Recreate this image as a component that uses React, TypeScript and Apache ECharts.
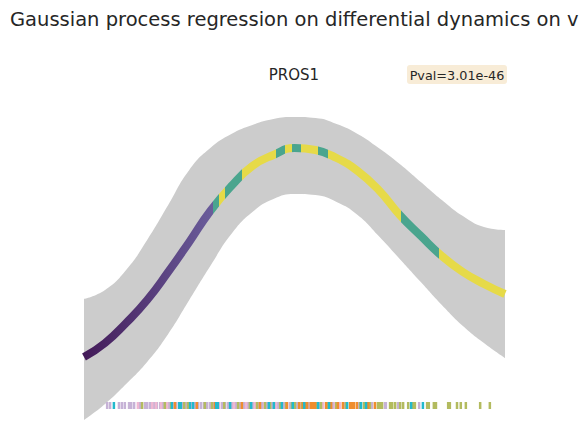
import React, { useEffect, useRef } from "react";
import * as echarts from "echarts";

// Pseudotime grid on which the GP posterior is evaluated
const pseudotime = [
  "0.00", "0.05", "0.10", "0.15", "0.20", "0.25", "0.30", "0.35", "0.40", "0.45", "0.50",
  "0.55", "0.60", "0.65", "0.70", "0.75", "0.80", "0.85", "0.90", "0.95", "1.00",
];

// Posterior mean of the fitted expression
const meanExpr = [
  -0.392, -0.275, -0.108, 0.083, 0.317, 0.567, 0.825, 1.033, 1.2, 1.292, 1.35,
  1.333, 1.267, 1.158, 1.0, 0.792, 0.617, 0.45, 0.317, 0.217, 0.133,
];

// Upper / lower bounds of the confidence band
const upperCI = [
  0.092, 0.167, 0.333, 0.583, 0.875, 1.167, 1.35, 1.467, 1.542, 1.592, 1.608,
  1.6, 1.55, 1.467, 1.35, 1.217, 1.067, 0.917, 0.783, 0.692, 0.667,
];
const lowerCI = [
  -0.917, -0.783, -0.617, -0.433, -0.2, 0.083, 0.367, 0.633, 0.817, 0.925, 0.967,
  0.958, 0.9, 0.792, 0.617, 0.425, 0.233, 0.042, -0.133, -0.275, -0.4,
];

// Dynamic state along the trajectory: segment boundaries and the state of each segment
const stateBreaks = [0, 0.306, 0.321, 0.335, 0.375, 0.456, 0.477, 0.494, 0.515, 0.556, 0.58, 0.753, 0.843, 1];
const stateIds = ["rise", "peak", "decay", "peak", "decay", "peak", "decay", "peak", "decay", "peak", "decay", "peak", "decay"];
const stateColors: Record<string, string[]> = {
  rise: ["#431a58", "#6a5d9b"],
  peak: ["#4aa58e", "#4aa58e"],
  decay: ["#e6da48", "#e6da48"],
};

// Cell positions (pseudotime) for the rug, grouped by cluster
const rugClusterPurple = [
  0.055, 0.062, 0.083, 0.09, 0.097, 0.107, 0.112, 0.119, 0.133, 0.145, 0.15, 0.157, 0.166, 0.173,
  0.181, 0.188, 0.195, 0.202, 0.219, 0.235, 0.242, 0.264, 0.271, 0.278, 0.285, 0.292, 0.299, 0.306,
  0.328, 0.335, 0.342, 0.352, 0.361, 0.371, 0.38, 0.39, 0.401, 0.413, 0.423, 0.435, 0.447, 0.461,
  0.475, 0.489, 0.506, 0.534, 0.561, 0.591, 0.618, 0.651, 0.684, 0.715, 0.717, 0.746, 0.796,
];
const rugClusterPink = [
  0.128, 0.162, 0.171, 0.183, 0.197, 0.214, 0.257, 0.321, 0.356, 0.385, 0.406, 0.428, 0.456,
  0.513, 0.568, 0.596, 0.608,
];
const rugClusterCyan = [
  0.071, 0.209, 0.226, 0.23, 0.252, 0.259, 0.314, 0.318, 0.347, 0.397, 0.439, 0.451, 0.47, 0.496,
  0.523, 0.556, 0.582, 0.625, 0.658, 0.67, 0.777, 0.805,
];
const rugClusterOrange = [
  0.216, 0.268, 0.311, 0.375, 0.418, 0.482, 0.511, 0.52, 0.525, 0.53, 0.539, 0.544, 0.549, 0.575,
  0.587, 0.603, 0.615, 0.632, 0.637, 0.641, 0.648, 0.675, 0.691,
];
const rugClusterOlive = [
  0.138, 0.192, 0.207, 0.238, 0.247, 0.287, 0.304, 0.333, 0.366, 0.394, 0.411, 0.43, 0.442, 0.466,
  0.48, 0.494, 0.501, 0.518, 0.551, 0.563, 0.58, 0.599, 0.622, 0.656, 0.665, 0.679, 0.698, 0.703,
  0.708, 0.727, 0.732, 0.739, 0.751, 0.758, 0.77, 0.781, 0.786, 0.815, 0.819, 0.831, 0.836, 0.865,
  0.869, 0.886, 0.895, 0.907, 0.941, 0.964,
];
const rugLevel = -0.796;

const rugGroups: [number[], string][] = [
  [rugClusterPurple, "#c6b2d6"],
  [rugClusterPink, "#efb7d2"],
  [rugClusterOlive, "#b3bb5f"],
  [rugClusterOrange, "#ef8d2e"],
  [rugClusterCyan, "#22b9cd"],
];

function buildStateGradient() {
  const stops: { offset: number; color: string }[] = [];
  for (let i = 0; i < stateIds.length; i++) {
    const [c0, c1] = stateColors[stateIds[i]];
    stops.push({ offset: stateBreaks[i], color: c0 });
    stops.push({ offset: stateBreaks[i + 1], color: c1 });
  }
  return new echarts.graphic.LinearGradient(0, 0, 1, 0, stops);
}

export default function App() {
  const ref = useRef<HTMLDivElement>(null);

  useEffect(() => {
    if (!ref.current) return;
    const chart = echarts.init(ref.current, undefined, { renderer: "svg" });
    const font = "DejaVu Sans";

    chart.setOption({
      animation: false,
      backgroundColor: "#ffffff",
      title: [
        {
          text: "Gaussian process regression on differential dynamics on v",
          left: 10,
          top: 9,
          padding: 0,
          textStyle: { fontFamily: font, fontSize: 19.5, fontWeight: "normal", color: "#262626" },
        },
        {
          text: "PROS1",
          left: "center",
          top: 67,
          padding: 0,
          textStyle: { fontFamily: font, fontSize: 15, fontWeight: "normal", color: "#262626" },
        },
      ],
      graphic: [
        {
          type: "group",
          left: 407,
          top: 65,
          children: [
            { type: "rect", shape: { x: 0, y: 0, width: 100, height: 19, r: 3 }, style: { fill: "#f8ecd7" } },
            {
              type: "text",
              x: 50,
              y: 10,
              style: {
                text: "Pval=3.01e-46",
                fontFamily: font,
                fontSize: 12.8,
                fill: "#262626",
                align: "center",
                verticalAlign: "middle",
              },
            },
          ],
        },
      ],
      grid: { left: 84, width: 421, top: 70, height: 360 },
      xAxis: [
        { type: "category", data: pseudotime, boundaryGap: false, show: false },
        { type: "value", min: 0, max: 1, show: false },
      ],
      yAxis: { type: "value", min: -1, max: 2, show: false },
      series: [
        {
          type: "line",
          name: "lower",
          data: lowerCI,
          stack: "ci",
          stackStrategy: "all",
          smooth: true,
          symbol: "none",
          lineStyle: { opacity: 0 },
          silent: true,
        },
        {
          type: "line",
          name: "band",
          data: upperCI.map((u, i) => u - lowerCI[i]),
          stack: "ci",
          stackStrategy: "all",
          smooth: true,
          symbol: "none",
          lineStyle: { opacity: 0 },
          areaStyle: { color: "#cccccc", opacity: 1 },
          silent: true,
        },
        {
          type: "line",
          name: "mean",
          data: meanExpr,
          smooth: true,
          symbol: "none",
          lineStyle: { width: 8, color: buildStateGradient(), cap: "butt" },
          silent: true,
          z: 3,
        },
        ...rugGroups.map(([cells, color]) => ({
          type: "scatter",
          xAxisIndex: 1,
          data: cells.map((t) => [t, rugLevel]),
          symbol: "rect",
          symbolSize: [2.5, 7],
          itemStyle: { color, opacity: 1 },
          silent: true,
          z: 4,
        })),
      ],
    });

    return () => chart.dispose();
  }, []);

  return (
    <div
      ref={ref}
      style={{ position: "absolute", left: 0, top: 0, width: 588, height: 446 }}
    />
  );
}
